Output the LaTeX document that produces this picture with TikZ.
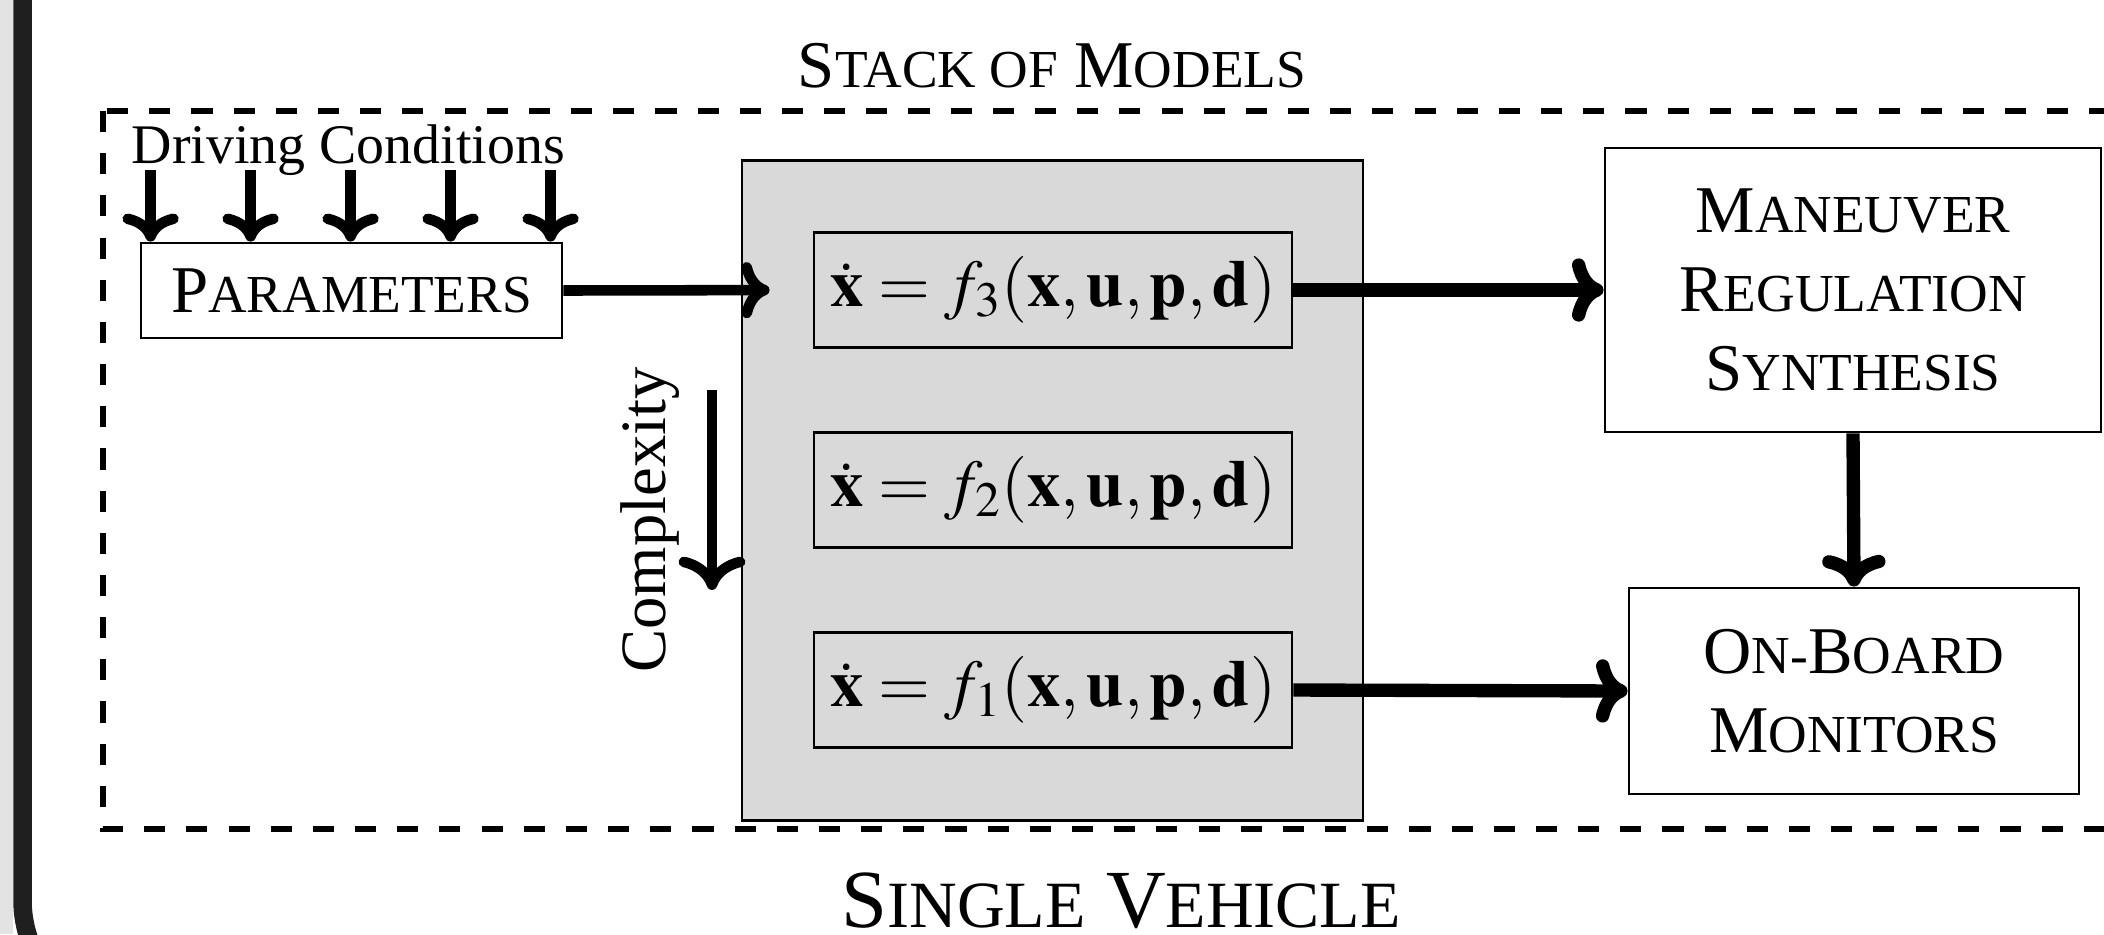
\documentclass[tikz,border=0pt]{standalone}
\usepackage{amsmath}
\usepackage{mathptmx}
\usepackage{fontspec}
\setmainfont{Liberation Serif}
\usepackage{tikz}
\usetikzlibrary{arrows.meta, calc}

% fake small caps: the rest of a word at 0.8 of the size in force
\makeatletter
\newdimen\lodim
\newcommand{\lo}[1]{{\lodim=\f@size pt\lodim=0.8\lodim
  \fontsize{\the\lodim}{\f@baselineskip}\selectfont #1}}
\makeatother

\begin{document}
\begin{tikzpicture}[
    box/.style={draw, line width=0.8pt, inner sep=0pt, align=center},
    sclabel/.style={font=\fontsize{19}{22.5}\selectfont},
    eqbox/.style={box, minimum width=4.78cm, minimum height=1.15cm,
      font=\fontsize{19}{22}\selectfont},
    thinarrow/.style={line width=3pt,
      -{Computer Modern Rightarrow[length=8pt, width=16pt]}},
    heavyarrow/.style={line width=3.8pt,
      -{Computer Modern Rightarrow[length=9pt, width=18pt]}},
  ]
        \useasboundingbox (0,0) rectangle (21.04,-9.34);
        \clip (0,0) rectangle (21.04,-9.34);

        % screen frame at the left
        \fill[gray!22] (0,0) rectangle (0.13,-9.34);
        \draw[line width=0.185cm, black!88] (0.225,0.1) -- (0.225,-9.0)
            arc[start angle=180, end angle=230, radius=1.2];

        % single vehicle
        \draw[line width=1.6pt, dash pattern=on 6pt off 6pt] (1.03,-1.11) rectangle (21.39,-8.29);
        \node[font=\fontsize{23.5}{28}\selectfont, anchor=base] (veh) at (11.21,-9.27) {S\lo{INGLE} V\lo{EHICLE}};

        % stack of models
        \node[font=\fontsize{19}{22}\selectfont, anchor=base] (ttl) at (10.52,-0.875) {S\lo{TACK OF} M\lo{ODELS}};
        \node[box, fill=gray!30, minimum width=6.21cm, minimum height=6.6cm] (stack) at (10.525,-4.905) {};
        \node[eqbox] (f3) at (10.53,-2.9) {$\dot{\mathbf{x}} = f_3(\mathbf{x},\mathbf{u},\mathbf{p},\mathbf{d})$};
        \node[eqbox] (f2) at (10.53,-4.9) {$\dot{\mathbf{x}} = f_2(\mathbf{x},\mathbf{u},\mathbf{p},\mathbf{d})$};
        \node[eqbox] (f1) at (10.53,-6.9) {$\dot{\mathbf{x}} = f_1(\mathbf{x},\mathbf{u},\mathbf{p},\mathbf{d})$};

        \node[font=\fontsize{18.4}{21}\selectfont, rotate=90, anchor=base, inner sep=0pt] (cplx) at (6.65,-5.2) {Complexity};
        \coordinate (ctop) at (7.12,-3.9);
        \coordinate (cbot) at (7.12,-5.9);
        \draw[line width=3pt, -{Computer Modern Rightarrow[length=9.5pt, width=19pt]}] (ctop) -- (cbot);

        % parameters
        \node[box, minimum width=4.21cm, minimum height=0.95cm, sclabel] (param) at (3.515,-2.905) {P\lo{ARAMETERS}};
        \node[font=\fontsize{15.9}{19}\selectfont, anchor=base west, inner sep=0pt] (drv) at (1.31,-1.63) {Driving Conditions};
        \foreach \i in {0,...,4}
            \draw[thinarrow] ([xshift={(\i+0.11)*1cm}, yshift=0.72cm]param.north west) -- ([xshift={(\i+0.11)*1cm}]param.north west);
        \draw[thinarrow, shorten >=0.43cm] (param.east) -- (f3.west);

        % synthesis and monitors
        \node[box, minimum width=4.96cm, minimum height=2.84cm, sclabel] (mrs) at (18.53,-2.9) {M\lo{ANEUVER}\\R\lo{EGULATION}\\S\lo{YNTHESIS}};
        \node[box, minimum width=4.5cm, minimum height=2.06cm, sclabel] (obm) at (18.54,-6.91) {O\lo{N-}B\lo{OARD}\\M\lo{ONITORS}};

        \draw[heavyarrow] (f3.east) -- (mrs.west);
        \draw[heavyarrow] (f1.east) -- (obm.west);
        \draw[heavyarrow] (mrs.south) -- (obm.north);
\end{tikzpicture}
\end{document}
